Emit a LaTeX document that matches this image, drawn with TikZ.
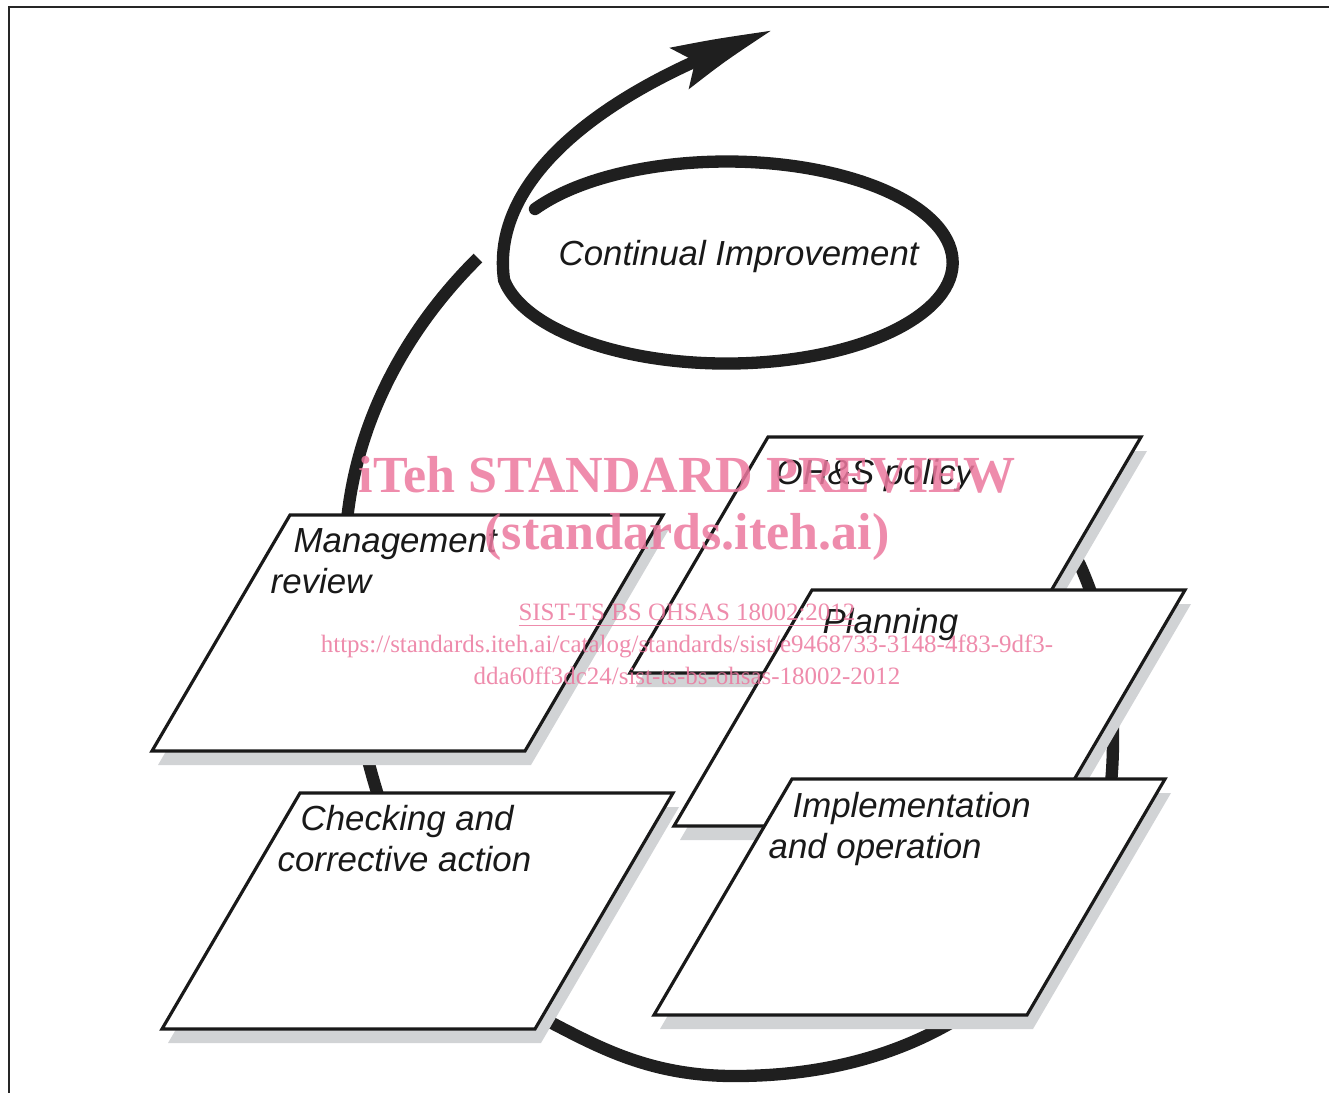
\documentclass[tikz,border=0pt]{standalone}
\usepackage{fontspec}
\setmainfont{Liberation Sans}
\newfontfamily\wmfont{Liberation Serif}
\usepackage{tikz}
\usetikzlibrary{arrows.meta,bending}
\definecolor{shadegray}{RGB}{209,211,213}
\definecolor{wmpink}{RGB}{236,120,158}

\begin{document}
\begin{tikzpicture}[
    x=0.01cm, y=-0.01cm,
    frame/.style={draw=black!85, line width=0.6pt},
    pgram/.style={draw=black!90, line width=0.9pt, fill=white},
    pshade/.style={fill=shadegray},
    cyc/.style={draw=black!88, line width=3.5pt},
    lbl/.style={font=\itshape\fontsize{9.9}{12}\selectfont, text=black!90, inner sep=0pt, anchor=base west},
    wmbig/.style={font=\wmfont\bfseries\fontsize{14.8}{16}\selectfont, text=wmpink, opacity=0.85, inner sep=0pt, anchor=base},
    wmsmall/.style={font=\wmfont\fontsize{7.1}{9}\selectfont, text=wmpink, opacity=0.85, inner sep=0pt, anchor=base},
]
    \useasboundingbox (0,0) rectangle (1329,1093);
    \draw[frame] (9,1093) -- (9,7) -- (1329,7);

    % spiral with the arrow
    \draw[cyc, line cap=round, -{Stealth[length=29pt, width=12.5pt, inset=5pt, bend]}]
        (535,209) arc[start angle=212, end angle=530, x radius=226, y radius=101]
        .. controls (490,180) and (600,90) .. (772,31);

    % big loop behind the boxes
    \draw[cyc] (478,258) .. controls (400,335) and (345,440) .. (345,560)
        .. controls (345,660) and (358,730) .. (377,792)
        .. controls (405,890) and (470,985) .. (550,1022)
        .. controls (600,1048) and (650,1075) .. (730,1076)
        .. controls (850,1077) and (960,1040) .. (1040,950)
        .. controls (1095,885) and (1113,820) .. (1113,740)
        .. controls (1113,660) and (1100,610) .. (1080,565)
        .. controls (1065,535) and (1050,515) .. (1035,500);

    % the five boxes
    \foreach \x/\y in {290/515, 300/793, 768/437, 812/590, 792/779} {
        \fill[pshade] (\x+6,\y+14) -- ++(373,0) -- ++(-138,236) -- ++(-373,0) -- cycle;
        \draw[pgram] (\x,\y) -- ++(373,0) -- ++(-138,236) -- ++(-373,0) -- cycle;
    }

    \node[lbl] (title) at (558,265) {Continual Improvement};
    \node[lbl] (policy) at (775,484) {OH\&S policy};
    \node[lbl] (review1) at (293,552) {Management};
    \node[lbl] (review2) at (270,593) {review};
    \node[lbl] (plan) at (822,633) {Planning};
    \node[lbl] (impl1) at (792,817) {Implementation};
    \node[lbl] (impl2) at (768,858) {and operation};
    \node[lbl] (check1) at (300,830) {Checking and};
    \node[lbl] (check2) at (277,871) {corrective action};

    % watermark
    \node[wmbig] (wm1) at (687,492) {iTeh STANDARD PREVIEW};
    \node[wmbig] (wm2) at (687,549) {(standards.iteh.ai)};
    \node[wmsmall] (wm3) at (687,620) {\underline{SIST-TS BS OHSAS 18002:2012}};
    \node[wmsmall] (wm4) at (687,652) {https://standards.iteh.ai/catalog/standards/sist/e9468733-3148-4f83-9df3-};
    \node[wmsmall] (wm5) at (687,684) {dda60ff3dc24/sist-ts-bs-ohsas-18002-2012};
\end{tikzpicture}
\end{document}
